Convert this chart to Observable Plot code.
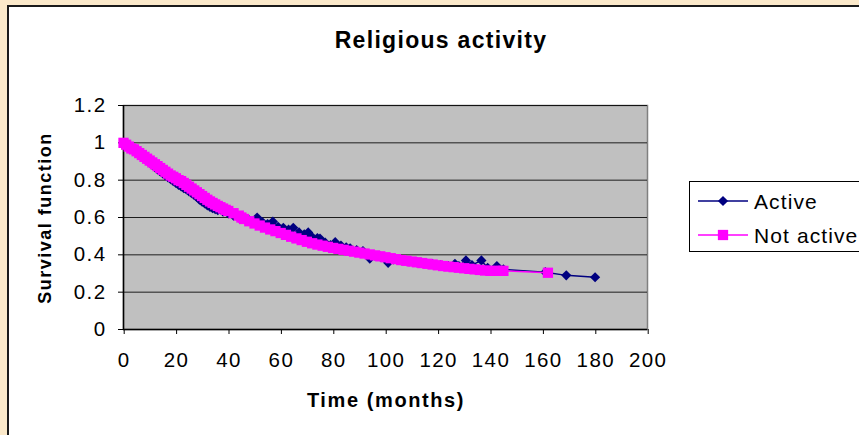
<!DOCTYPE html>
<html>
<head>
<meta charset="utf-8">
<script src="https://cdn.jsdelivr.net/npm/d3@7"></script>
<script src="https://cdn.jsdelivr.net/npm/@observablehq/plot@0.6"></script>
<style>
  html, body { margin: 0; padding: 0; }
  body { width: 859px; height: 435px; overflow: hidden; position: relative;
         background: #fbe9ca; font-family: "Liberation Sans", Arial, sans-serif; }
  #panel { position: absolute; left: 7px; top: 5px; width: 900px; height: 500px;
           background: #fff; border-left: 2px solid #1a1a1a; border-top: 2px solid #1a1a1a; }
  #chart { position: absolute; left: 0; top: 0; }
  #chart svg text { letter-spacing: 1.4px; }
  .lbl { position: absolute; font-weight: bold; white-space: nowrap; color: #000; line-height: 1; }
  #title { left: 441px; top: 40px; font-size: 23px; letter-spacing: 1.3px; transform: translate(-50%, -50%); }
  #ylab { left: 45px; top: 218px; font-size: 18px; letter-spacing: 1.5px; transform: translate(-50%, -50%) rotate(-90deg); }
  #xlab { left: 386px; top: 400px; font-size: 20px; letter-spacing: 1.6px; transform: translate(-50%, -50%); }
  #legend { position: absolute; left: 689px; top: 181px; width: 180px; height: 69px;
            border: 1px solid #000; background: #fff; }
  .item { position: absolute; left: 8px; height: 20px; display: flex; align-items: center; }
  .item span { font-size: 21px; letter-spacing: 1.1px; margin-left: 6px; line-height: 1; }
</style>
</head>
<body>
<div id="panel"></div>
<div id="chart"></div>
<div class="lbl" id="title">Religious activity</div>
<div class="lbl" id="ylab">Survival function</div>
<div class="lbl" id="xlab">Time (months)</div>
<div id="legend"></div>
<script>
// ---- data ----
const seriesNames = ["Active", "Not active"];
const seriesColors = ["#000080", "#FF00FF"];

const activeTime = [0,1,2,3,4,5,6,7,8,9,10,11,12,13,14,15,16,17,18,19,20,21,22,23,24,25,26,27,28,29,30,31,32,33,34,35,36,38,40,42,44,46,48,50,51,53,55,57,59,61,63,64.8,67,69,70.5,72,74,75,77,79,80.8,83,85,86.5,89,91.4,94,96,98,101,103,106,109,112,115,118,121,124,126.5,128,130.7,133,136.6,139,142.5,145,161,169,180];
const activeSurv = [1.00,0.99,0.98,0.97,0.96,0.95,0.94,0.93,0.917,0.906,0.895,0.882,0.87,0.858,0.847,0.836,0.825,0.815,0.805,0.795,0.785,0.775,0.767,0.757,0.75,0.74,0.73,0.72,0.71,0.695,0.685,0.675,0.665,0.657,0.65,0.645,0.64,0.632,0.622,0.61,0.6,0.595,0.585,0.58,0.6,0.575,0.565,0.578,0.55,0.545,0.535,0.545,0.52,0.51,0.52,0.495,0.49,0.487,0.465,0.452,0.468,0.45,0.44,0.435,0.425,0.42,0.38,0.395,0.39,0.357,0.375,0.37,0.365,0.36,0.355,0.35,0.345,0.34,0.352,0.34,0.37,0.345,0.37,0.33,0.34,0.322,0.307,0.29,0.28];

const notActiveTime = [0,1,2,3,4,5,6,7,8,9,10,11,12,13,14,15,16,17,18,19,20,21,22,23,24,25,26,27,28,29,30,31,32,33,34,35,36,37,38,39,40,42,44,45,46,48,50,52,54,56,58,60,62,64,66,68,70,72,74,76,78,80,82,84,86,88,90,92,94,96,98,100,102,104,106,108,110,112,114,116,118,120,122,124,126,128,130,132,134,136,138,140,142,144,145,162];
const notActiveSurv = [1.00,0.99,0.98,0.97,0.965,0.955,0.945,0.935,0.925,0.915,0.905,0.895,0.885,0.875,0.865,0.855,0.845,0.835,0.825,0.818,0.81,0.80,0.795,0.785,0.775,0.765,0.755,0.745,0.735,0.725,0.715,0.705,0.695,0.686,0.678,0.67,0.662,0.655,0.648,0.641,0.635,0.623,0.61,0.60,0.592,0.58,0.568,0.557,0.546,0.536,0.527,0.517,0.507,0.497,0.488,0.479,0.47,0.462,0.455,0.449,0.443,0.437,0.432,0.427,0.422,0.417,0.412,0.407,0.402,0.397,0.392,0.387,0.382,0.377,0.372,0.368,0.364,0.36,0.356,0.352,0.348,0.344,0.34,0.337,0.334,0.331,0.328,0.325,0.322,0.319,0.316,0.314,0.314,0.314,0.314,0.304];

const xTicks = [0,20,40,60,80,100,120,140,160,180,200];
const yTicks = [0,0.2,0.4,0.6,0.8,1,1.2];

// ---- build tables ----
const active = activeTime.map((t, i) => ({t, s: activeSurv[i]}));
const notActive = notActiveTime.map((t, i) => ({t, s: notActiveSurv[i]}));

const chart = Plot.plot({
  width: 859,
  height: 435,
  marginLeft: 123,
  marginRight: 212,
  marginTop: 105,
  marginBottom: 106,
  style: { background: "transparent", fontFamily: "'Liberation Sans', Arial, sans-serif", fontSize: "20.5px", color: "#000" },
  x: { domain: [0, 200], label: null },
  y: { domain: [0, 1.2], label: null },
  marks: [
    Plot.frame({ fill: "#C0C0C0", stroke: "#808080", strokeWidth: 1.5 }),
    Plot.gridY(yTicks, { stroke: "#000", strokeOpacity: 0.85, strokeWidth: 1 }),
    Plot.axisX({ ticks: xTicks, tickSize: 5, tickPadding: 18, tickFormat: d => String(d), stroke: "#000", dx: 0.7 }),
    Plot.axisY({ ticks: yTicks, tickSize: 5, tickPadding: 12, tickFormat: d => String(d), stroke: "#000" }),
    Plot.ruleX([0], { stroke: "#000", strokeWidth: 1.5 }),
    Plot.ruleY([0], { stroke: "#000", strokeWidth: 1.5 }),
    Plot.line(active, { x: "t", y: "s", stroke: seriesColors[0], strokeWidth: 1.5 }),
    Plot.dot(active, { x: "t", y: "s", symbol: "diamond2", r: 4.6, fill: seriesColors[0], stroke: "none" }),
    Plot.line(notActive, { x: "t", y: "s", stroke: seriesColors[1], strokeWidth: 1.5 }),
    Plot.dot(notActive, { x: "t", y: "s", symbol: "square", r: 5.8, fill: seriesColors[1], stroke: "none" })
  ]
});
document.getElementById("chart").appendChild(chart);

// ---- legend ----
const legend = document.getElementById("legend");
const sizes = [4.6, 5.8];
seriesNames.forEach((name, i) => {
  const item = document.createElement("div");
  item.className = "item";
  item.style.top = (i === 0 ? 9 : 43) + "px";
  const sw = d3.create("svg").attr("width", 50).attr("height", 20);
  sw.append("line").attr("x1", 0).attr("x2", 50).attr("y1", 10).attr("y2", 10)
    .attr("stroke", seriesColors[i]).attr("stroke-width", 1.5);
  sw.append("path").attr("transform", "translate(25,10)")
    .attr("d", d3.symbol(i === 0 ? d3.symbolDiamond2 : d3.symbolSquare, Math.PI * sizes[i] * sizes[i])())
    .attr("fill", seriesColors[i]);
  item.appendChild(sw.node());
  const span = document.createElement("span");
  span.textContent = name;
  item.appendChild(span);
  legend.appendChild(item);
});
</script>
</body>
</html>
